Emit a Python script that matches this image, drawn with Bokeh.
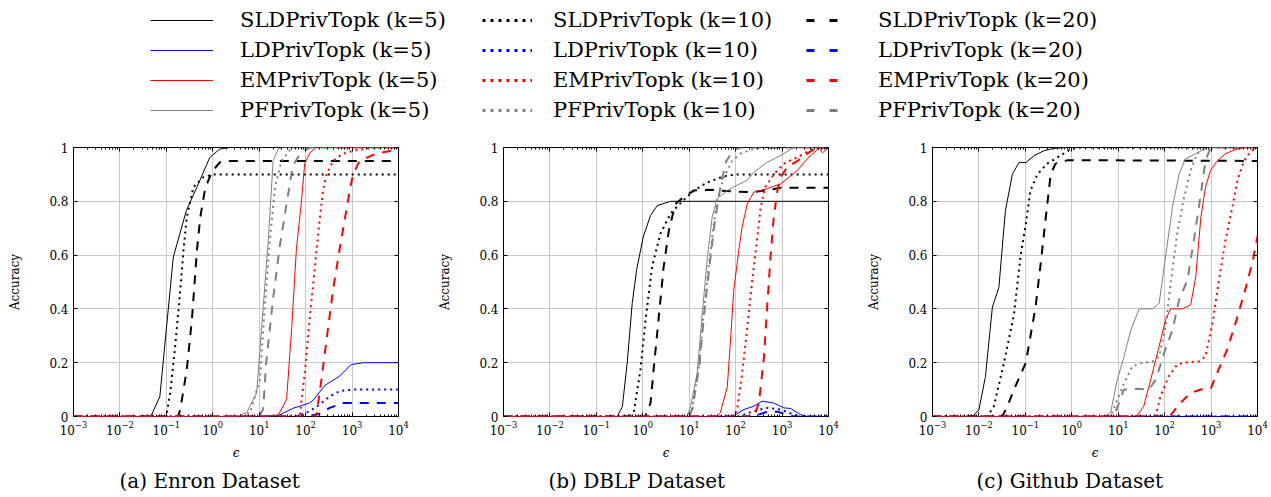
from bokeh.plotting import figure
from bokeh.models import (Range1d, FixedTicker, LogAxis, LinearAxis, LogTickFormatter,
                          CustomJSTickFormatter, Legend, LegendItem)
from bokeh.layouts import column, row
from bokeh.embed import file_html
from bokeh.resources import INLINE

FONT = "DejaVu Serif"

# ---------------- categories / labels ----------------
METHODS = ["SLDPrivTopk", "LDPrivTopk", "EMPrivTopk", "PFPrivTopk"]
K_VALUES = [5, 10, 20]
DATASETS = ["enron", "dblp", "github"]
CAPTIONS = ["(a) Enron Dataset", "(b) DBLP Dataset", "(c) Github Dataset"]
X_TICKS = [1e-3, 1e-2, 1e-1, 1e0, 1e1, 1e2, 1e3, 1e4]
Y_TICKS = [0, 0.2, 0.4, 0.6, 0.8, 1.0]
X_LABEL = "\u03f5"
Y_LABEL = "Accuracy"

# ---------------- data: log10(epsilon) and accuracy ----------------
# Enron
enron_sld_5_x = [-3, -1.43, -1.32, -1.14, -0.85, -0.57, -0.28, -0.065, 0.15, 0.36, 4]
enron_sld_5_y = [0, 0, 0.006, 0.074, 0.593, 0.765, 0.877, 0.963, 0.994, 1.0, 1.0]
enron_sld_10_x = [-3, -1.03, -0.99, -0.917, -0.81, -0.70, -0.63, -0.56, -0.417, -0.2, 0.01, 4]
enron_sld_10_y = [0, 0, 0.01, 0.089, 0.26, 0.47, 0.62, 0.74, 0.853, 0.89, 0.9, 0.9]
enron_sld_20_x = [-3, -0.75, -0.70, -0.56, -0.45, -0.34, -0.27, -0.165, -0.02, 0.157, 0.3, 4]
enron_sld_20_y = [0, 0, 0.026, 0.174, 0.36, 0.62, 0.74, 0.847, 0.91, 0.946, 0.95, 0.95]
enron_ld_5_x = [-3, 1.2, 1.44, 1.72, 1.87, 2.08, 2.16, 2.41, 2.73, 2.98, 3.24, 4]
enron_ld_5_y = [0, 0, 0.006, 0.03, 0.038, 0.05, 0.06, 0.115, 0.15, 0.193, 0.2, 0.2]
enron_ld_10_x = [-3, 1.8, 2.09, 2.30, 2.52, 2.73, 3.0, 4]
enron_ld_10_y = [0, 0, 0.02, 0.044, 0.075, 0.094, 0.1, 0.1]
enron_ld_20_x = [-3, 2.0, 2.3, 2.52, 2.80, 4]
enron_ld_20_y = [0, 0, 0.01, 0.032, 0.05, 0.05]
enron_em_5_x = [-3, 1.0, 1.41, 1.59, 1.70, 1.80, 1.91, 1.98, 2.09, 2.23, 4]
enron_em_5_y = [0, 0, 0.005, 0.063, 0.33, 0.62, 0.80, 0.94, 0.98, 1.0, 1.0]
enron_em_10_x = [-3, 1.87, 1.98, 2.09, 2.20, 2.30, 2.375, 2.45, 2.59, 2.80, 3.09, 3.5, 4]
enron_em_10_y = [0, 0, 0.16, 0.37, 0.557, 0.73, 0.84, 0.90, 0.95, 0.977, 0.99, 1.0, 1.0]
enron_em_20_x = [-3, 2.23, 2.34, 2.45, 2.59, 2.73, 2.84, 2.95, 3.02, 3.16, 3.52, 3.9, 4]
enron_em_20_y = [0, 0, 0.137, 0.285, 0.47, 0.62, 0.73, 0.84, 0.90, 0.95, 0.977, 0.99, 0.995]
enron_pf_5_x = [-3, 0.5, 0.73, 0.945, 1.087, 1.195, 1.30, 1.41, 1.5, 4]
enron_pf_5_y = [0, 0, 0.014, 0.088, 0.41, 0.655, 0.952, 0.995, 1.0, 1.0]
enron_pf_10_x = [-3, 0.6, 0.80, 1.015, 1.12, 1.23, 1.34, 1.48, 1.66, 1.8, 4]
enron_pf_10_y = [0, 0, 0.014, 0.137, 0.41, 0.655, 0.853, 0.95, 0.99, 1.0, 1.0]
enron_pf_20_x = [-3, 1.0, 1.087, 1.15, 1.30, 1.44, 1.58, 1.72, 1.87, 2.0, 2.1, 4]
enron_pf_20_y = [0, 0, 0.03, 0.2, 0.44, 0.63, 0.78, 0.93, 0.975, 0.99, 1.0, 1.0]

# DBLP
dblp_sld_5_x = [-3, -0.55, -0.44, -0.335, -0.228, -0.135, 0.009, 0.166, 0.31, 0.6, 4]
dblp_sld_5_y = [0, 0, 0.037, 0.2, 0.42, 0.543, 0.667, 0.747, 0.784, 0.8, 0.8]
dblp_sld_10_x = [-3, -0.3, -0.19, -0.05, 0.06, 0.20, 0.38, 0.6, 0.85, 1.1, 1.39, 1.745, 2.03, 4]
dblp_sld_10_y = [0, 0, 0.02, 0.174, 0.36, 0.557, 0.68, 0.755, 0.80, 0.84, 0.87, 0.893, 0.9, 0.9]
dblp_sld_20_x = [-3, 0.05, 0.166, 0.24, 0.345, 0.45, 0.56, 0.70, 0.88, 1.1, 1.42, 1.89, 2.39, 2.97, 4]
dblp_sld_20_y = [0, 0, 0.05, 0.186, 0.37, 0.557, 0.69, 0.79, 0.816, 0.84, 0.843, 0.837, 0.834, 0.85, 0.85]
dblp_ld_5_x = [-3, 1.9, 2.0, 2.18, 2.39, 2.57, 2.82, 3.04, 3.18, 3.40, 3.54, 4]
dblp_ld_5_y = [0, 0, 0.007, 0.026, 0.038, 0.057, 0.05, 0.032, 0.03, 0.007, 0, 0]
dblp_ld_10_x = [-3, 2.05, 2.18, 2.39, 2.68, 2.97, 3.25, 3.4, 4]
dblp_ld_10_y = [0, 0, 0.007, 0.02, 0.032, 0.026, 0.007, 0, 0]
dblp_ld_20_x = [-3, 2.3, 2.46, 2.68, 2.9, 3.1, 3.25, 4]
dblp_ld_20_y = [0, 0, 0.005, 0.018, 0.018, 0.007, 0, 0]
dblp_em_5_x = [-3, 1.6, 1.67, 1.82, 1.89, 1.96, 2.07, 2.14, 2.25, 2.39, 2.68, 2.97, 3.11, 3.33, 3.54, 3.75, 3.8, 3.87, 4]
dblp_em_5_y = [0, 0, 0.014, 0.11, 0.285, 0.47, 0.62, 0.705, 0.79, 0.834, 0.847, 0.865, 0.884, 0.915, 0.958, 0.99, 1.0, 0.98, 1.0]
dblp_em_10_x = [-3, 1.95, 2.03, 2.14, 2.25, 2.36, 2.46, 2.54, 2.64, 2.82, 3.04, 3.33, 3.61, 3.8, 4]
dblp_em_10_y = [0, 0, 0.026, 0.16, 0.33, 0.51, 0.655, 0.78, 0.853, 0.90, 0.94, 0.964, 0.99, 1.0, 1.0]
dblp_em_20_x = [-3, 2.4, 2.50, 2.61, 2.68, 2.75, 2.82, 2.90, 2.97, 3.11, 3.33, 3.54, 3.75, 4]
dblp_em_20_y = [0, 0, 0.05, 0.22, 0.41, 0.59, 0.74, 0.84, 0.89, 0.927, 0.95, 0.977, 1.0, 1.0]
dblp_pf_5_x = [-3, 0.95, 1.03, 1.17, 1.28, 1.39, 1.495, 1.60, 1.82, 2.03, 2.25, 2.39, 2.68, 2.97, 3.25, 4]
dblp_pf_5_y = [0, 0, 0.038, 0.16, 0.38, 0.59, 0.742, 0.81, 0.84, 0.86, 0.878, 0.908, 0.945, 0.97, 1.0, 1.0]
dblp_pf_10_x = [-3, 0.97, 1.06, 1.21, 1.31, 1.42, 1.53, 1.60, 1.745, 1.925, 2.10, 2.39, 2.6, 4]
dblp_pf_10_y = [0, 0, 0.026, 0.186, 0.384, 0.557, 0.717, 0.80, 0.89, 0.95, 0.977, 0.995, 1.0, 1.0]
dblp_pf_20_x = [-3, 1.0, 1.07, 1.22, 1.32, 1.43, 1.54, 1.62, 1.70, 1.80, 1.95, 2.1, 4]
dblp_pf_20_y = [0, 0, 0.03, 0.19, 0.38, 0.55, 0.71, 0.80, 0.88, 0.95, 0.99, 1.0, 1.0]

# Github
github_sld_5_x = [-3, -2.14, -2.0, -1.86, -1.71, -1.57, -1.43, -1.28, -1.14, -0.99, -0.81, -0.60, -0.38, -0.1, 4]
github_sld_5_y = [0, 0, 0.025, 0.148, 0.407, 0.48, 0.765, 0.90, 0.944, 0.944, 0.97, 0.988, 0.997, 1.0, 1.0]
github_sld_10_x = [-3, -1.82, -1.68, -1.46, -1.245, -1.1, -0.99, -0.89, -0.74, -0.53, -0.31, -0.02, 0.2, 4]
github_sld_10_y = [0, 0, 0.037, 0.2, 0.38, 0.6, 0.716, 0.84, 0.90, 0.94, 0.963, 0.994, 1.0, 1.0]
github_sld_20_x = [-3, -1.5, -1.39, -1.245, -0.99, -0.78, -0.67, -0.56, -0.455, -0.35, -0.09, 4]
github_sld_20_y = [0, 0, 0.037, 0.1, 0.2, 0.407, 0.568, 0.74, 0.90, 0.94, 0.953, 0.95]
github_ld_5_x = [-3, 4]
github_ld_5_y = [0, 0]
github_ld_10_x = [-3, 4]
github_ld_10_y = [0, 0]
github_ld_20_x = [-3, 4]
github_ld_20_y = [0, 0]
github_em_5_x = [-3, 1.3, 1.41, 1.55, 1.70, 1.88, 2.02, 2.13, 2.38, 2.56, 2.67, 2.78, 2.88, 2.99, 3.135, 3.31, 3.49, 3.7, 4]
github_em_5_y = [0, 0, 0.005, 0.038, 0.137, 0.26, 0.36, 0.40, 0.40, 0.415, 0.52, 0.74, 0.853, 0.915, 0.95, 0.977, 0.99, 1.0, 1.0]
github_em_10_x = [-3, 1.75, 1.81, 1.91, 2.09, 2.27, 2.42, 2.74, 2.88, 3.03, 3.17, 3.31, 3.46, 3.57, 3.71, 3.85, 4]
github_em_10_y = [0, 0, 0.005, 0.075, 0.15, 0.193, 0.20, 0.205, 0.223, 0.347, 0.507, 0.655, 0.78, 0.88, 0.95, 0.985, 1.0]
github_em_20_x = [-3, 2.05, 2.13, 2.34, 2.56, 2.88, 3.0, 3.15, 3.35, 3.55, 3.75, 3.9, 4]
github_em_20_y = [0, 0, 0.005, 0.05, 0.088, 0.106, 0.106, 0.17, 0.25, 0.36, 0.48, 0.58, 0.67]
github_pf_5_x = [-3, 0.7, 0.836, 0.98, 1.12, 1.27, 1.45, 1.735, 1.88, 2.02, 2.17, 2.31, 2.45, 2.70, 2.92, 4]
github_pf_5_y = [0, 0, 0.014, 0.137, 0.22, 0.32, 0.40, 0.40, 0.42, 0.594, 0.78, 0.90, 0.958, 0.98, 1.0, 1.0]
github_pf_10_x = [-3, 0.75, 0.87, 1.09, 1.30, 1.52, 1.73, 1.88, 2.02, 2.13, 2.27, 2.42, 2.56, 2.70, 2.9, 4]
github_pf_10_y = [0, 0, 0.014, 0.11, 0.186, 0.20, 0.203, 0.223, 0.334, 0.495, 0.68, 0.816, 0.915, 0.977, 1.0, 1.0]
github_pf_20_x = [-3, 0.9, 1.05, 1.12, 1.41, 1.66, 1.81, 1.99, 2.17, 2.31, 2.49, 2.63, 2.78, 2.88, 2.99, 4]
github_pf_20_y = [0, 0, 0.063, 0.1, 0.103, 0.10, 0.137, 0.236, 0.322, 0.433, 0.507, 0.655, 0.828, 0.95, 1.0, 1.0]

# ---------------- styles ----------------
COLORS = {"SLDPrivTopk": "#000000", "LDPrivTopk": "#0000ff",
          "EMPrivTopk": "#ff0000", "PFPrivTopk": "#808080"}
PLOT_STYLE = {5: dict(line_dash="solid", line_width=1.0),
              10: dict(line_dash="2 4", line_width=2.0),
              20: dict(line_dash="9 8", line_width=2.0)}
LEGEND_STYLE = {5: dict(line_dash="solid", line_width=1.0),
                10: dict(line_dash="3 5", line_width=2.8),
                20: dict(line_dash="8 15", line_width=2.8)}
SHORT = {"SLDPrivTopk": "sld", "LDPrivTopk": "ld", "EMPrivTopk": "em", "PFPrivTopk": "pf"}
DRAW_ORDER = ["LDPrivTopk", "SLDPrivTopk", "PFPrivTopk", "EMPrivTopk"]

g = globals()
SERIES = {(d, m, k): (g[f"{d}_{SHORT[m]}_{k}_x"], g[f"{d}_{SHORT[m]}_{k}_y"])
          for d in DATASETS for m in METHODS for k in K_VALUES}

X_MINOR = [m * 10.0 ** e for e in range(-3, 4) for m in range(2, 10)]


def style_axis(ax):
    ax.axis_line_color = None
    ax.major_tick_in = 4
    ax.major_tick_out = 0
    ax.minor_tick_in = 2
    ax.minor_tick_out = 0
    ax.major_tick_line_color = "black"
    ax.minor_tick_line_color = "black"
    ax.major_label_text_font = FONT
    ax.major_label_text_font_size = "12px"
    ax.major_label_text_color = "black"
    ax.axis_label_text_font = FONT
    ax.axis_label_text_font_size = "12px"
    ax.axis_label_text_color = "black"


def make_panel(dataset, caption, border_left, border_right, caption_offset):
    p = figure(width=border_left + 325 + border_right, height=366,
               x_axis_type="log", x_range=Range1d(1e-3, 1e4), y_range=Range1d(0, 1),
               toolbar_location=None, output_backend="svg",
               min_border_left=border_left, min_border_right=border_right,
               min_border_top=17, min_border_bottom=80,
               title=caption, title_location="below")
    p.background_fill_color = "white"
    p.border_fill_color = "white"
    p.outline_line_color = "black"
    p.outline_line_width = 1
    p.outline_line_alpha = 1

    xt = FixedTicker(ticks=X_TICKS, minor_ticks=X_MINOR)
    yt = FixedTicker(ticks=Y_TICKS, minor_ticks=[])

    xa = p.xaxis[0]
    xa.ticker = xt
    xa.formatter = LogTickFormatter()
    style_axis(xa)
    xa.major_label_standoff = 4
    xa.axis_label = X_LABEL
    xa.axis_label_standoff = 8
    xa.axis_label_text_font_style = "italic"

    ya = p.yaxis[0]
    ya.ticker = yt
    ya.formatter = CustomJSTickFormatter(code="return (Math.round(tick*10)/10).toString();")
    style_axis(ya)
    ya.major_label_standoff = 5
    ya.axis_label = Y_LABEL
    ya.axis_label_standoff = 24
    ya.axis_label_text_font_style = "normal"

    top = LogAxis(ticker=FixedTicker(ticks=X_TICKS, minor_ticks=X_MINOR),
                  formatter=CustomJSTickFormatter(code="return '';"))
    style_axis(top)
    top.major_label_standoff = 0
    p.add_layout(top, "above")
    right = LinearAxis(ticker=FixedTicker(ticks=Y_TICKS, minor_ticks=[]),
                       formatter=CustomJSTickFormatter(code="return '';"))
    style_axis(right)
    right.major_label_standoff = 0
    p.add_layout(right, "right")

    p.xgrid.ticker = xt
    p.ygrid.ticker = yt
    for grid in (p.xgrid, p.ygrid):
        grid.grid_line_color = "#c8c8c8"
        grid.grid_line_width = 1

    p.title.align = "left"
    p.title.offset = caption_offset
    p.title.standoff = 8
    p.title.text_font = FONT
    p.title.text_font_size = "20px"
    p.title.text_font_style = "normal"
    p.title.text_color = "black"

    for m in DRAW_ORDER:
        for k in K_VALUES:
            lx, ly = SERIES[(dataset, m, k)]
            p.line(x=[10.0 ** v for v in lx], y=ly, line_color=COLORS[m], **PLOT_STYLE[k])
    return p


# ---------------- legend strip ----------------
lp = figure(width=1268, height=130, x_range=Range1d(0, 1), y_range=Range1d(0, 1),
            x_axis_type=None, y_axis_type=None, toolbar_location=None,
            output_backend="svg", min_border=0)
lp.outline_line_color = None
lp.background_fill_color = "white"
lp.border_fill_color = "white"

LEGEND_COLS = {5: dict(x=150, glyph_width=63, label_standoff=27),
               10: dict(x=482, glyph_width=50, label_standoff=21),
               20: dict(x=806, glyph_width=40, label_standoff=32)}
NAN = float("nan")
for k in K_VALUES:
    items = []
    for m in METHODS:
        # legend-only renderer: a single NaN point, so nothing is drawn in the strip itself
        r = lp.line(x=[NAN], y=[NAN], line_color=COLORS[m], **LEGEND_STYLE[k])
        items.append(LegendItem(label=f"{m} (k={k})", renderers=[r]))
    c = LEGEND_COLS[k]
    leg = Legend(items=items, location=(c["x"], 8), orientation="vertical",
                 glyph_width=c["glyph_width"], glyph_height=20, label_height=20,
                 label_standoff=c["label_standoff"], spacing=6, padding=0, margin=0,
                 border_line_color=None, background_fill_alpha=0,
                 label_text_font=FONT, label_text_font_size="21px", label_text_color="black")
    lp.add_layout(leg)

panel_specs = [(73, 32, 46), (73, 32, 45), (72, 11, 44)]
panels = [make_panel(d, c, bl, br, off)
          for d, c, (bl, br, off) in zip(DATASETS, CAPTIONS, panel_specs)]
layout = column(lp, row(*panels))

open("out.html", "w").write(file_html(layout, INLINE))
